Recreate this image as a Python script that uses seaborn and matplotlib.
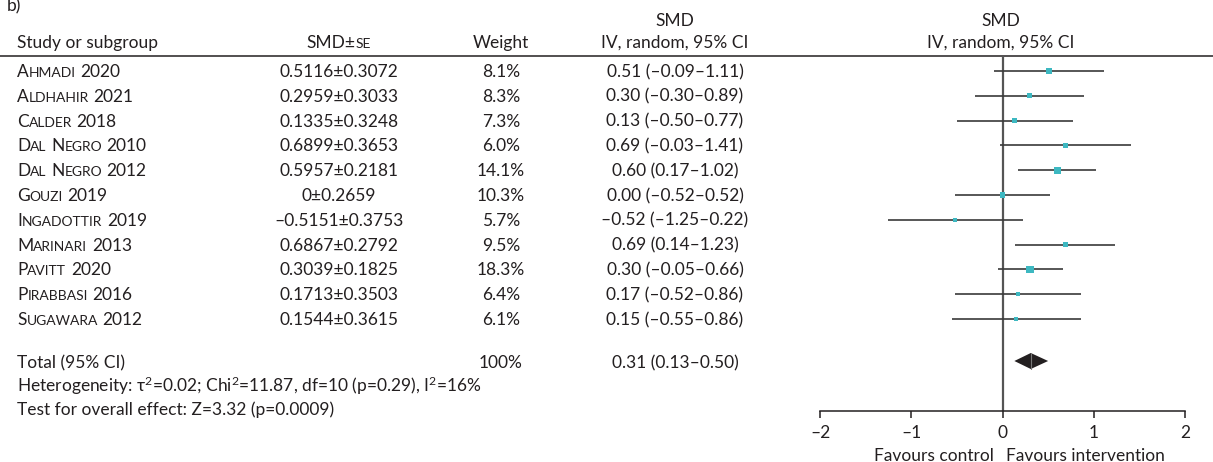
import numpy as np
import pandas as pd
import matplotlib
matplotlib.use("Agg")
import matplotlib.pyplot as plt
import seaborn as sns

# ---------------- data ----------------
studies = ["Ahmadi 2020", "Aldhahir 2021", "Calder 2018", "Dal Negro 2010",
           "Dal Negro 2012", "Gouzi 2019", "Ingadottir 2019", "Marinari 2013",
           "Pavitt 2020", "Pirabbasi 2016", "Sugawara 2012"]
smd = [0.5116, 0.2959, 0.1335, 0.6899, 0.5957, 0.0, -0.5151, 0.6867, 0.3039, 0.1713, 0.1544]
se = [0.3072, 0.3033, 0.3248, 0.3653, 0.2181, 0.2659, 0.3753, 0.2792, 0.1825, 0.3503, 0.3615]
weights = [8.1, 8.3, 7.3, 6.0, 14.1, 10.3, 5.7, 9.5, 18.3, 6.4, 6.1]
ci_est = [0.51, 0.30, 0.13, 0.69, 0.60, 0.00, -0.52, 0.69, 0.30, 0.17, 0.15]
ci_low = [-0.09, -0.30, -0.50, -0.03, 0.17, -0.52, -1.25, 0.14, -0.05, -0.52, -0.55]
ci_high = [1.11, 0.89, 0.77, 1.41, 1.02, 0.52, 0.22, 1.23, 0.66, 0.86, 0.86]
total_est, total_low, total_high = 0.31, 0.13, 0.50
total_weight = "100%"
heterogeneity = r"Heterogeneity: τ$^{2}$=0.02; Chi$^{2}$=11.87, df=10 (p=0.29), I$^{2}$=16%"
overall = "Test for overall effect: Z=3.32 (p=0.0009)"
tick_values = [-2, -1, 0, 1, 2]
tick_labels = ["–2", "–1", "0", "1", "2"]

# ---------------- style ----------------
sns.set_theme(style="white")
plt.rcParams["font.family"] = ["Lato", "DejaVu Sans"]
plt.rcParams["mathtext.fontset"] = "custom"
plt.rcParams["mathtext.rm"] = "Lato"
plt.rcParams["mathtext.it"] = "Lato"
plt.rcParams["mathtext.bf"] = "Lato"
plt.rcParams["mathtext.default"] = "rm"
TXT = "#231f20"
TEAL = "#3db8c1"
FS = 12.5
SC = 0.8 * FS

W, H = 1213, 462
fig = plt.figure(figsize=(W / 100, H / 100), dpi=100)
renderer = fig.canvas.get_renderer()

ax0 = fig.add_axes([0, 0, 1, 1])
ax0.set_xlim(0, W)
ax0.set_ylim(H, 0)
ax0.axis("off")


def fmt(v):
    return f"{v:g}".replace("-", "–")


def fmt2(v):
    return f"{v:.2f}".replace("-", "–")


def text_width(s, size):
    t = ax0.text(0, 0, s, fontsize=size)
    w = t.get_window_extent(renderer).width
    t.remove()
    return w


def pieces_for(name):
    out = []
    for k, word in enumerate(name.split(" ")):
        if k > 0:
            out.append((" ", FS))
        if word.isalpha():
            out.append((word[0], FS))
            if len(word) > 1:
                out.append((word[1:].upper(), SC))
        else:
            out.append((word, FS))
    return out


def draw_pieces(x, y, pieces, ha="left"):
    space = text_width("a a", FS) - text_width("aa", FS)
    widths = []
    for s, size in pieces:
        widths.append(space if s == " " else text_width(s, size))
    total = sum(widths)
    if ha == "center":
        x -= total / 2
    for (s, size), w in zip(pieces, widths):
        if s != " ":
            ax0.text(x, y, s, fontsize=size, va="baseline", ha="left", color=TXT)
        x += w


# ---------------- layout ----------------
row0_px, row_step = 71.0, 24.8
base_off = 6.0
x_name, x_smd, x_w, x_ci = 17, 339, 501, 675
ax_left, ax_right = 820, 1185
ax_top, ax_bottom = 56, 410.7

# header
ax0.text(7, 11, "b)", fontsize=FS, va="baseline", color=TXT)
ax0.text(x_name, 48, "Study or subgroup", fontsize=FS, va="baseline", color=TXT)
draw_pieces(x_smd, 48, [("SMD±", FS), ("SE", SC)], ha="center")
ax0.text(x_w, 48, "Weight", fontsize=FS, va="baseline", ha="center", color=TXT)
for xc in (x_ci, 1001):
    ax0.text(xc, 26, "SMD", fontsize=FS, va="baseline", ha="center", color=TXT)
    ax0.text(xc, 48, "IV, random, 95% CI", fontsize=FS, va="baseline", ha="center", color=TXT)
ax0.plot([0, W], [56, 56], color=TXT, lw=1.1, solid_capstyle="butt")

# rows
for i, name in enumerate(studies):
    yb = row0_px + row_step * i + base_off
    draw_pieces(x_name, yb, pieces_for(name))
    ax0.text(x_smd, yb, f"{fmt(smd[i])}±{fmt(se[i])}", fontsize=FS, va="baseline", ha="center", color=TXT)
    ax0.text(x_w, yb, f"{weights[i]:.1f}%", fontsize=FS, va="baseline", ha="center", color=TXT)
    ax0.text(x_ci, yb, f"{fmt2(ci_est[i])} ({fmt2(ci_low[i])}–{fmt2(ci_high[i])})",
             fontsize=FS, va="baseline", ha="center", color=TXT)

ax0.text(x_name, 368, "Total (95% CI)", fontsize=FS, va="baseline", color=TXT)
ax0.text(x_w, 368, total_weight, fontsize=FS, va="baseline", ha="center", color=TXT)
ax0.text(x_ci, 368, f"{fmt2(total_est)} ({fmt2(total_low)}–{fmt2(total_high)})",
         fontsize=FS, va="baseline", ha="center", color=TXT)
ax0.text(x_name, 392, heterogeneity, fontsize=FS, va="baseline", color=TXT)
ax0.text(x_name, 415, overall, fontsize=FS, va="baseline", color=TXT)
ax0.text(994, 461, "Favours control", fontsize=FS, va="baseline", ha="right", color=TXT)
ax0.text(1006, 461, "Favours intervention", fontsize=FS, va="baseline", ha="left", color=TXT)

# ---------------- forest axes ----------------
ax = fig.add_axes([ax_left / W, 1 - ax_bottom / H, (ax_right - ax_left) / W, (ax_bottom - ax_top) / H])
ax.patch.set_alpha(0)
ymin = (ax_top - row0_px) / row_step
ymax = (ax_bottom - row0_px) / row_step
total_row = (361 - row0_px) / row_step

df = pd.DataFrame({"study": studies, "est": ci_est, "lo": ci_low, "hi": ci_high,
                   "weight": weights, "row": np.arange(len(studies))})

ax.axvline(0, color="#555555", lw=1.6, zorder=1)
ax.hlines(df["row"], df["lo"], df["hi"], color="#3a3a3a", lw=1.2, zorder=2)
k = 1.7
sns.scatterplot(data=df, x="est", y="row", size="weight",
                sizes=(k * min(weights), k * max(weights)),
                size_norm=(min(weights), max(weights)),
                marker="s", color=TEAL, linewidth=0, legend=False, ax=ax, zorder=3)

dh = 8 / row_step
ax.fill([total_low, total_est, total_high, total_est],
        [total_row, total_row - dh, total_row, total_row + dh],
        color=TXT, lw=0, zorder=4)
ax.plot([total_est, total_est], [total_row - dh, total_row + dh], color="#777777", lw=0.8, zorder=5)

ax.set_xlim(-2, 2)
ax.set_ylim(ymax, ymin)
ax.set_xticks(tick_values)
ax.set_xticklabels(tick_labels, fontsize=FS, color=TXT)
ax.set_yticks([])
ax.set_xlabel("")
ax.set_ylabel("")
for s in ("top", "left", "right"):
    ax.spines[s].set_visible(False)
ax.spines["bottom"].set_color(TXT)
ax.spines["bottom"].set_linewidth(1.1)
ax.tick_params(axis="x", direction="out", length=5, width=1.1, color=TXT, pad=5, bottom=True)

fig.savefig("out.png", dpi=100)
